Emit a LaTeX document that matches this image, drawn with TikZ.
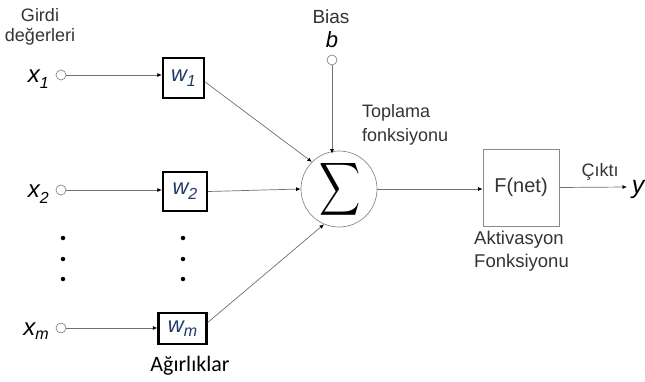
\documentclass[tikz,border=0pt]{standalone}
\usepackage{fontspec}
\setmainfont{Liberation Sans}
\newfontfamily\capfont{Carlito}
\usepackage{graphicx}
\usetikzlibrary{arrows.meta}
\definecolor{wireC}{HTML}{707070}
\definecolor{textC}{HTML}{333333}
\definecolor{wC}{HTML}{1F3A6B}
\definecolor{ringC}{HTML}{8A8A8A}
% italic symbol with a lowered subscript: {size}{subsize}{drop}{symbol}{index}
\newcommand\symsub[5]{{\fontsize{#1}{#1}\selectfont\itshape #4\raisebox{-#3}{\fontsize{#2}{#2}\selectfont #5}}}
\begin{document}
\begin{tikzpicture}[x=1pt,y=-1pt,
  port/.style={circle,draw=ringC,fill=white,line width=0.7pt,inner sep=0pt,minimum size=10pt},
  wbox/.style={draw=black,line width=2.4pt,fill=white,inner sep=0pt,text=wC},
  wire/.style={draw=wireC,line width=0.7pt,-{Latex[length=4.5pt,width=4pt,color=black]}},
  lbl/.style={text=textC,font=\fontsize{18}{18}\selectfont,inner sep=0pt},
  var/.style={text=black,inner sep=0pt},
  dotm/.style={circle,fill=black,inner sep=0pt,minimum size=4.5pt}]
\useasboundingbox (0,0) rectangle (645,381);

% inputs
\node[lbl] (girdi) at (40,15) {Girdi};
\node[lbl] (deger) at (40,37) {değerleri};
\node[port] (x1) at (61,75) {};
\node[port] (x2) at (61,190) {};
\node[port] (xm) at (61,328) {};
\node[var,anchor=base east] (x1l) at (49,82) {\symsub{24}{16}{6pt}{x}{1}};
\node[var,anchor=base east] (x2l) at (49,197) {\symsub{24}{16}{6pt}{x}{2}};
\node[var,anchor=base east] (xml) at (49,335) {\symsub{24}{16}{4pt}{x}{m}};

% weights
\node[wbox,minimum width=41pt,minimum height=40pt] (w1) at (183.5,78) {\symsub{22}{16}{5pt}{w}{1}};
\node[wbox,minimum width=44pt,minimum height=39pt] (w2) at (185,191.5) {\symsub{22}{16}{5pt}{w}{2}};
\node[wbox,minimum width=48pt,minimum height=31pt] (wm) at (182.5,328.5) {\symsub{22}{16}{4pt}{w}{m}};
\node[text=black,font=\capfont\fontsize{22}{22}\selectfont,inner sep=0pt] (agir) at (190,366) {Ağırlıklar};

% ellipsis dots
\foreach \yy [count=\i] in {238,259,279}{
  \node[dotm] (ldot\i) at (63,\yy) {};
  \node[dotm] (mdot\i) at (183,\yy) {};
}

% summation
\node[circle,draw=ringC,line width=0.7pt,fill=white,minimum size=76pt,inner sep=0pt] (sum) at (339,189) {};
\node[inner sep=0pt] (sig) at (340,189) {\scalebox{2.85}[3.7]{$\displaystyle\sum$}};
\node[lbl,anchor=west] (topl) at (362,113) {Toplama};
\node[lbl,anchor=west] (fonk) at (362,137) {fonksiyonu};

% bias
\node[lbl,font=\fontsize{19}{19}\selectfont] (bias) at (331,17) {Bias};
\node[var,font=\fontsize{22}{22}\selectfont\itshape] (bl) at (332,40) {b};
\node[port] (b) at (332,60) {};

% activation
\node[draw=ringC,line width=0.7pt,minimum width=76pt,minimum height=77pt,inner sep=0pt,
  font=\fontsize{20}{20}\selectfont,text=textC] (F) at (521,187.5) {F(net)};
\node[lbl,anchor=west,font=\fontsize{18.5}{18.5}\selectfont] (akt) at (474,240) {Aktivasyon};
\node[lbl,anchor=west,font=\fontsize{18.5}{18.5}\selectfont] (afonk) at (474,263) {Fonksiyonu};

% output
\coordinate (yend) at (627,187);
\node[lbl] (cikti) at (600,172) {Çıktı};
\node[var,font=\fontsize{25}{25}\selectfont\itshape] (yl) at (638,189) {y};

% connectors
\draw[wire] (x1) -- (x1 -| w1.west);
\draw[wire] (x2) -- (x2 -| w2.west);
\draw[wire] (xm) -- (xm -| wm.west);
\draw[wire] ([yshift=-4pt]w1.east) -- (sum.135);
\draw[wire] (w2.east) -- (sum.west);
\draw[wire] ([yshift=6pt]wm.east) -- (sum.-113);
\draw[wire] (b) -- ([yshift=-3pt]b |- sum.north);
\draw[wire] (sum.east) -- (sum.east -| F.west);
\draw[wire] (F.east) -- (yend);
\end{tikzpicture}
\end{document}
